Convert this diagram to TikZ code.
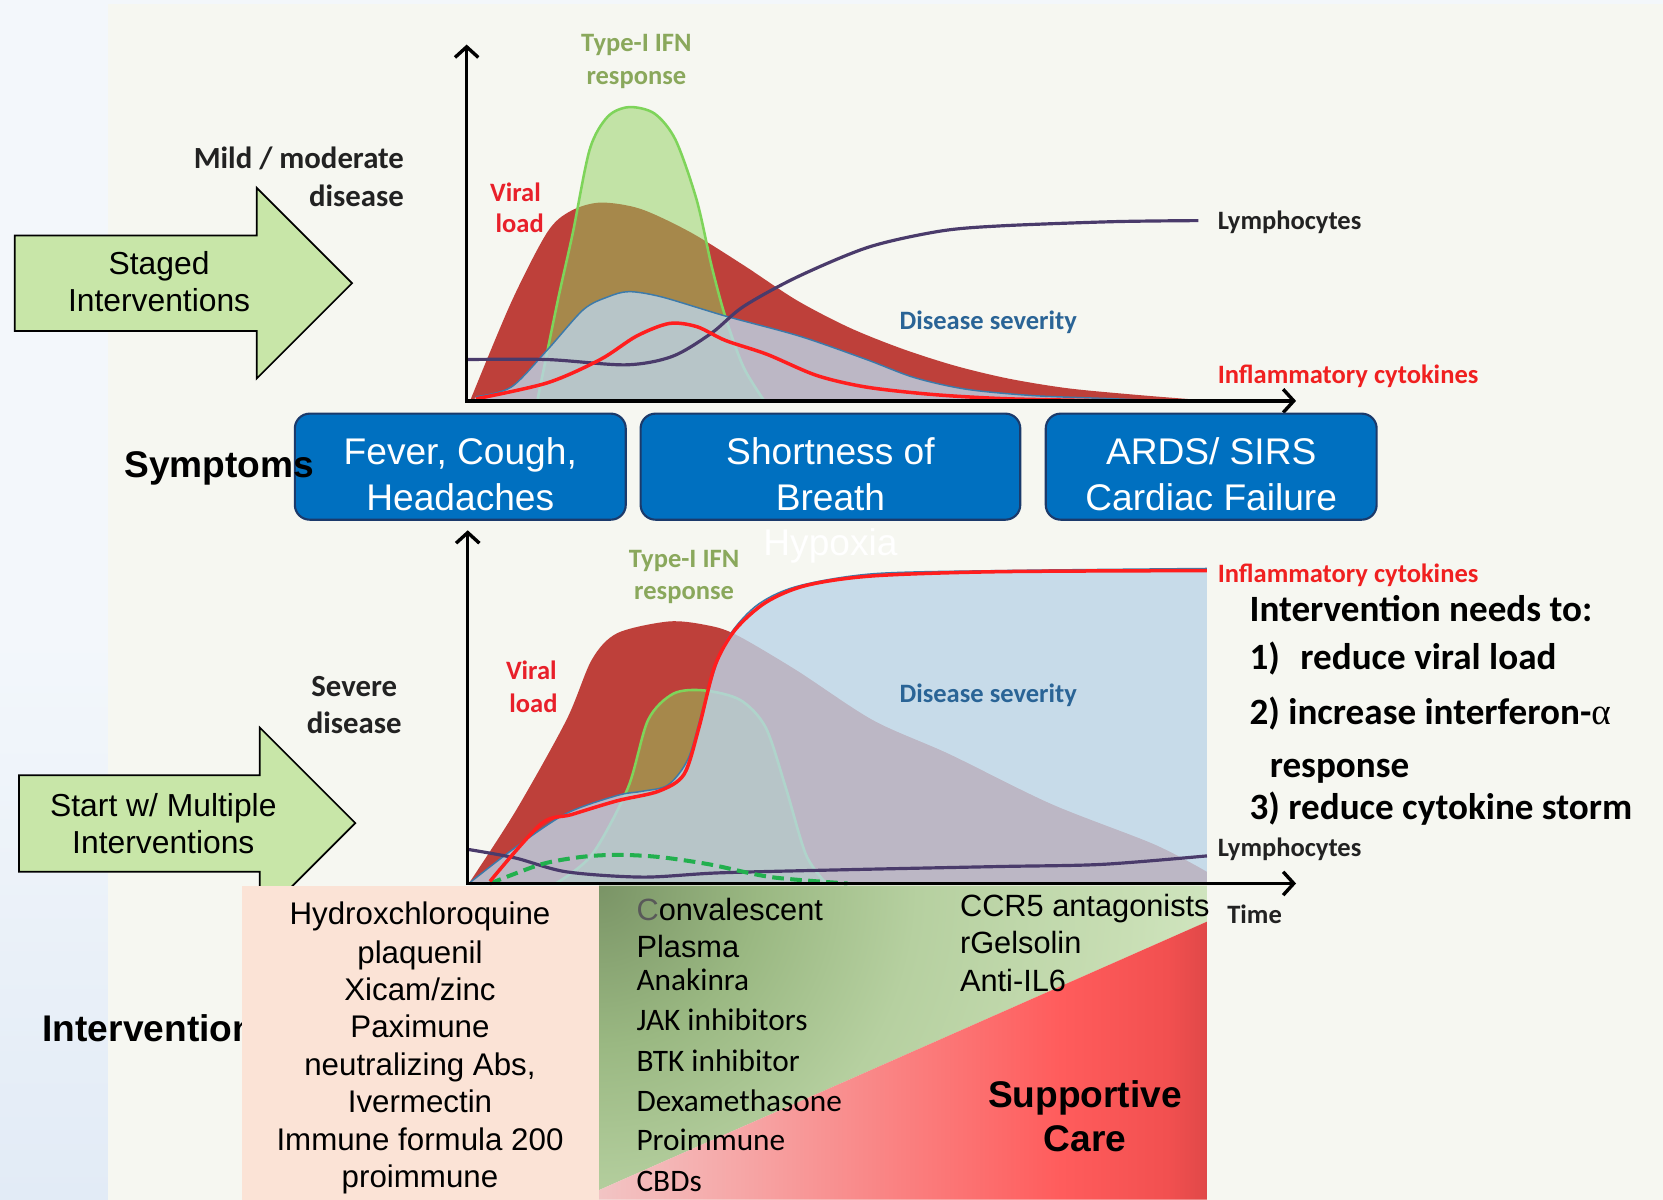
\documentclass[tikz,border=0pt]{standalone}
\usepackage{fontspec}
\setmainfont{Liberation Sans}
\newfontfamily\carl{Carlito}
\newfontfamily\greekserif{Liberation Serif}
\usetikzlibrary{arrows.meta}

% palette
\definecolor{panel}{HTML}{F6F7F1}
\definecolor{stripA}{HTML}{F3F7FB}
\definecolor{stripB}{HTML}{E2EBF6}
\definecolor{viral}{RGB}{190,64,58}
\definecolor{ifn}{RGB}{144,208,92}
\definecolor{ifnline}{HTML}{7ED45A}
\definecolor{sev}{RGB}{188,213,232}
\definecolor{sevline}{HTML}{3C7AAA}
\definecolor{cyto}{HTML}{FF1E1E}
\definecolor{lymph}{HTML}{4A3B6B}
\definecolor{dashgreen}{HTML}{22B04E}
\definecolor{boxblue}{HTML}{0070C0}
\definecolor{boxedge}{HTML}{1B3A6B}
\definecolor{arrowgreen}{HTML}{C8E6A8}
\definecolor{peach}{HTML}{FBE3D6}
\definecolor{ifntext}{HTML}{8AA85C}
\definecolor{viraltext}{HTML}{E8202A}
\definecolor{sevtext}{HTML}{2A6496}
\definecolor{cytotext}{HTML}{F02020}
\definecolor{darktext}{HTML}{222222}
\definecolor{careA}{HTML}{F2C4C4}
\definecolor{careB}{HTML}{F6A6A6}
\definecolor{careC}{HTML}{FA8080}
\definecolor{careD}{HTML}{FF5C5C}
\definecolor{careE}{HTML}{F25050}
\definecolor{careF}{HTML}{E04848}
\definecolor{drugA}{HTML}{7A9466}
\definecolor{drugB}{HTML}{9AB882}
\definecolor{drugC}{HTML}{B6D0A0}
\definecolor{drugD}{HTML}{C8DEB4}
\definecolor{drugE}{HTML}{D2E7C2}

% horizontal fade of the supportive-care wedge
\pgfdeclarehorizontalshading{carefade}{100bp}{color(0bp)=(careA); color(25bp)=(careA); color(36.8bp)=(careB); color(50bp)=(careC); color(63bp)=(careD); color(71.7bp)=(careE); color(75bp)=(careF); color(100bp)=(careF)}
% glow spreading from the top-left corner of the drug wedge
\pgfdeclareradialshading{drugglow}{\pgfpoint{0bp}{0bp}}{color(0bp)=(drugA); color(6.25bp)=(drugB); color(12.5bp)=(drugC); color(20.8bp)=(drugD); color(25bp)=(drugE); color(50bp)=(drugE)}

\begin{document}
\begin{tikzpicture}[x=1pt,y=-1pt,
  lbl/.style={font=\carl\bfseries\fontsize{25}{30}\selectfont, inner sep=0pt},
  biglbl/.style={font=\carl\bfseries\fontsize{29}{34}\selectfont, inner sep=0pt, text=darktext},
  axisline/.style={line width=3.2pt, -{Straight Barb[length=10pt,width=22pt]}},
  symbox/.style={draw=boxedge, line width=2pt, fill=boxblue, rounded corners=14pt, inner sep=0pt},
  boxtxt/.style={font=\fontsize{35}{43}\selectfont, text=white, inner sep=0pt, anchor=base},
  greenarrow/.style={draw=black, line width=1.6pt, fill=arrowgreen, line join=miter},
  arrowtxt/.style={font=\fontsize{30}{35}\selectfont, inner sep=0pt, anchor=base},
  listtxt/.style={font=\fontsize{29.5}{35}\selectfont, inner sep=0pt, anchor=base},
  druglist/.style={font=\carl\fontsize{29.5}{35}\selectfont, inner sep=0pt, anchor=base west},
  drugarial/.style={font=\fontsize{29}{35}\selectfont, inner sep=0pt, anchor=base west},
  needs/.style={font=\carl\bfseries\fontsize{35}{42}\selectfont, inner sep=0pt, anchor=base west},
  headtxt/.style={font=\bfseries\fontsize{35}{42}\selectfont, inner sep=0pt, anchor=base west}]

\useasboundingbox (0,0) rectangle (1568,1131);

% ---------- background ----------
\fill[stripA] (0,0) rectangle (1568,1131);
\shade[top color=stripA, bottom color=stripB] (0,600) rectangle (102,1131);
\fill[panel] (102,4) rectangle (1568,1131);

% ---------- upper chart: mild / moderate disease ----------
\fill[viral] (443,378) -- plot[smooth] coordinates {(444,376) (482,285) (516,219) (538,199) (566,191) (604,197) (651,219) (701,250) (751,283) (801,309) (851,329) (901,345) (951,357) (1006,366) (1068,372) (1130,377)} -- cycle;
\fill[ifn, fill opacity=0.5] (506,378) -- plot[smooth] coordinates {(507,376) (526,283) (540,220) (556,141) (573,110) (593,101) (617,107) (637,132) (657,189) (671,251) (684,299) (701,346) (720,377)} -- cycle;
\draw[ifnline, line width=2.4pt] plot[smooth] coordinates {(507,376) (526,283) (540,220) (556,141) (573,110) (593,101) (617,107) (637,132) (657,189) (671,251) (684,299) (701,346) (720,377)};
\fill[sev, fill opacity=0.8] (446,378) -- plot[smooth] coordinates {(449,374) (482,365) (516,330) (550,292) (573,280) (593,275) (624,280) (684,298) (754,317) (817,339) (862,356) (911,367) (974,373) (1050,376) (1100,378)} -- cycle;
\draw[sevline, line width=1.4pt] plot[smooth] coordinates {(449,374) (482,365) (516,330) (550,292) (573,280) (593,275) (624,280) (684,298) (754,317) (817,339) (862,356) (911,367) (974,373) (1050,376) (1100,378)};
\draw[lymph, line width=3pt] plot[smooth] coordinates {(440,339) (516,339) (590,344) (634,336) (671,314) (701,289) (752,261) (819,233) (886,218) (943,213) (1050,209) (1130,208)};
\draw[cyto, line width=3.3pt] plot[smooth] coordinates {(449,376) (516,361) (566,339) (600,317) (631,305) (657,308) (684,321) (723,334) (770,354) (817,365) (880,372) (950,376) (1050,378)};
\coordinate (o1) at (440,378);
\coordinate (ytop1) at (440,42);
\coordinate (xend1) at (1222,378);
\draw[axisline] ([yshift=1.6pt]o1) -- (ytop1);
\draw[axisline] ([xshift=-1.6pt]o1) -- (xend1);

\node[lbl, text=ifntext, anchor=mid] (ifnUa) at (600,46) {Type-I IFN};
\node[lbl, text=ifntext, anchor=mid] (ifnUb) at (600,77) {response};
\node[lbl, text=viraltext, anchor=mid] (virUa) at (486,187) {Viral};
\node[lbl, text=viraltext, anchor=mid] (virUb) at (490,217) {load};
\node[biglbl, anchor=mid east] (mildA) at (381,156) {Mild / moderate};
\node[biglbl, anchor=mid east] (mildB) at (381,192) {disease};
\node[lbl, text=darktext, anchor=mid west] (lymU) at (1148,214) {Lymphocytes};
\node[lbl, text=sevtext, anchor=mid west] (sevU) at (848,308) {Disease severity};
\node[lbl, text=cytotext, anchor=mid west] (cytU) at (1148,359) {Inflammatory cytokines};

% ---------- symptom boxes ----------
\node[symbox, minimum width=312pt, minimum height=100pt] (sym1) at (434,440) {};
\node[symbox, minimum width=358pt, minimum height=100pt] (sym2) at (783,440) {};
\node[symbox, minimum width=312pt, minimum height=100pt] (sym3) at (1142,440) {};
\node[boxtxt] (s1a) at (434,438) {Fever, Cough,};
\node[boxtxt] (s1b) at (434,481) {Headaches};
\node[boxtxt] (s2a) at (783,438) {Shortness of};
\node[boxtxt] (s2b) at (783,481) {Breath};
\node[boxtxt] (s2c) at (783,524) {Hypoxia};
\node[boxtxt] (s3a) at (1142,438) {ARDS/ SIRS};
\node[boxtxt] (s3b) at (1142,481) {Cardiac Failure};
\node[headtxt] (symp) at (117,450) {Symptoms};

% ---------- lower chart: severe disease ----------
\fill[viral] (442,833) -- plot[smooth] coordinates {(442,833) (486,765) (534,679) (558,622) (582,597) (630,586) (664,589) (693,598) (751,632) (823,679) (895,711) (991,758) (1088,796) (1138,822)} -- (1138,833) -- cycle;
\fill[ifn, fill opacity=0.5] (524,833) -- plot[smooth] coordinates {(524,833) (558,806) (592,743) (611,679) (635,654) (664,651) (698,660) (722,686) (741,743) (760,806) (779,833)} -- cycle;
\draw[ifnline, line width=2.4pt] plot[smooth] coordinates {(524,833) (558,806) (592,743) (611,679) (635,654) (664,651) (698,660) (722,686) (741,743) (760,806) (779,833)};
\fill[sev, fill opacity=0.8] (442,833) -- plot[smooth] coordinates {(442,833) (486,799) (534,767) (582,750) (606,746) (630,740) (649,715) (664,664) (683,607) (712,572) (751,553) (823,541) (943,538) (1138,536)} -- (1138,833) -- cycle;
\draw[sevline, line width=1.4pt] plot[smooth] coordinates {(442,833) (486,799) (534,767) (582,750) (606,746) (630,740) (649,715) (664,664) (683,607) (712,572) (751,553) (823,541) (943,538) (1138,536)};
\draw[lymph, line width=3pt] plot[smooth] coordinates {(442,801) (486,809) (534,822) (606,827) (678,823) (799,820) (943,817) (1039,815) (1138,807)};
\draw[dashgreen, line width=3.8pt, dash pattern=on 11pt off 6pt] plot[smooth] coordinates {(462,833) (510,815) (548,808) (582,806) (621,808) (669,815) (727,827) (799,833)};
\draw[cyto, line width=3.3pt] plot[smooth] coordinates {(462,831) (510,777) (539,768) (582,755) (621,746) (645,730) (659,686) (674,628) (693,594) (722,568) (760,552) (823,543) (943,539) (1138,538)};
\coordinate (o2) at (441,833);
\coordinate (ytop2) at (441,500);
\coordinate (xend2) at (1222,833);
\draw[axisline] ([yshift=1.6pt]o2) -- (ytop2);
\draw[axisline] ([xshift=-1.6pt]o2) -- (xend2);

\node[lbl, text=ifntext, anchor=mid] (ifnLa) at (645,532) {Type-I IFN};
\node[lbl, text=ifntext, anchor=mid] (ifnLb) at (645,563) {response};
\node[lbl, text=viraltext, anchor=mid] (virLa) at (501,638) {Viral};
\node[lbl, text=viraltext, anchor=mid] (virLb) at (503,669) {load};
\node[biglbl, anchor=mid] (sevA) at (334,654) {Severe};
\node[biglbl, anchor=mid] (sevB) at (334,689) {disease};
\node[lbl, text=cytotext, anchor=mid west] (cytL) at (1148,547) {Inflammatory cytokines};
\node[lbl, text=sevtext, anchor=mid west] (sevL) at (848,660) {Disease severity};
\node[lbl, text=darktext, anchor=mid west] (lymL) at (1148,805) {Lymphocytes};
\node[lbl, text=darktext, anchor=mid west] (timeL) at (1157,868) {Time};

% ---------- goals ----------
\node[needs] (need0) at (1178,586) {Intervention needs to:};
\node[needs] (need1) at (1178,631) {1)\hspace{0.55em}reduce viral load};
\node[needs] (need2) at (1178,683) {2) increase interferon-{\greekserif\mdseries α}};
\node[needs] (need2b) at (1197,733) {response};
\node[needs] (need3) at (1178,773) {3) reduce cytokine storm};

% ---------- green arrows ----------
\draw[greenarrow] (14,222) -- (242,222) -- (242,177) -- (332,267) -- (242,357) -- (242,312) -- (14,312) -- cycle;
\node[arrowtxt] (stA) at (150,259) {Staged};
\node[arrowtxt] (stB) at (150,294) {Interventions};
\draw[greenarrow] (18,731) -- (245,731) -- (245,686) -- (335,776) -- (245,866) -- (245,822) -- (18,822) -- cycle;
\node[arrowtxt] (muA) at (154,770) {Start w/ Multiple};
\node[arrowtxt] (muB) at (154,805) {Interventions};

% ---------- interventions ----------
\node[headtxt] (intv) at (40,982) {Interventions};
\fill[peach] (228,835) rectangle (565,1131);
\begin{scope}
  \clip (565,835) -- (1138,835) -- (1138,869) -- (565,1122) -- cycle;
  \shade[shading=drugglow] (-35,235) rectangle (1165,1435);
\end{scope}
\shade[shading=carefade] (565,1122) -- (1138,869) -- (1138,1131) -- (565,1131) -- cycle;

\node[listtxt] (p1) at (396,872) {Hydroxchloroquine};
\node[listtxt] (p2) at (396,908) {plaquenil};
\node[listtxt] (p3) at (396,943) {Xicam/zinc};
\node[listtxt] (p4) at (396,978) {Paximune};
\node[listtxt] (p5) at (396,1014) {neutralizing Abs,};
\node[listtxt] (p6) at (396,1049) {Ivermectin};
\node[listtxt] (p7) at (396,1085) {Immune formula 200};
\node[listtxt] (p8) at (396,1120) {proimmune};

\node[drugarial] (g1) at (600,868) {\textcolor{darktext!75}{C}onvalescent};
\node[drugarial] (g2) at (600,903) {Plasma};
\node[druglist] (g3) at (600,934) {Anakinra};
\node[druglist] (g4) at (600,972) {JAK inhibitors};
\node[druglist] (g5) at (600,1010) {BTK inhibitor};
\node[druglist] (g6) at (600,1048) {Dexamethasone};
\node[druglist] (g7) at (600,1085) {Proimmune};
\node[druglist] (g8) at (600,1123) {CBDs};

\node[drugarial] (r1) at (905,864) {CCR5 antagonists};
\node[drugarial] (r2) at (905,899) {rGelsolin};
\node[drugarial] (r3) at (905,935) {Anti-IL6};

\node[font=\bfseries\fontsize{35}{42}\selectfont, inner sep=0pt, anchor=base] (sc1) at (1023,1044) {Supportive};
\node[font=\bfseries\fontsize{35}{42}\selectfont, inner sep=0pt, anchor=base] (sc2) at (1023,1086) {Care};
\end{tikzpicture}
\end{document}
